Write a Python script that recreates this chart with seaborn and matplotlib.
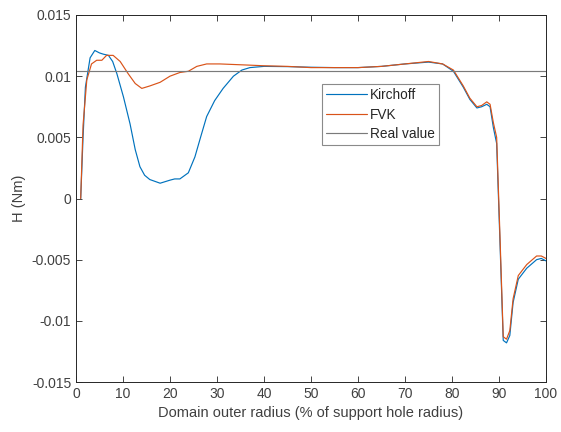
import numpy as np
import pandas as pd
import matplotlib
matplotlib.use("Agg")
import matplotlib.pyplot as plt
import seaborn as sns

# Kirchoff series
kir_x = [1, 1.5, 2, 3, 4, 5, 5.8, 6.9, 7.8, 8.7, 10.1, 11.5, 12.6, 13.6, 14.6, 15.7, 17.9, 20, 21,
         22.1, 23.9, 25.3, 26.5, 27.8, 29.5, 31.3, 33.5, 35.3, 37, 40, 45, 50, 55, 60, 65, 70, 75,
         78, 80.3, 82.4, 83.8, 85.3, 86.3, 87.4, 88.1, 88.8, 89.5, 90.2, 90.9, 91.6, 92.3, 93,
         94.1, 95.9, 98, 99, 100]
kir_y = [0, 0.005, 0.0091, 0.0115, 0.0121, 0.0119, 0.0118, 0.0117, 0.0112, 0.0102, 0.0083, 0.0061,
         0.0040, 0.0026, 0.0019, 0.00155, 0.00125, 0.0015, 0.0016, 0.0016, 0.0021, 0.0034, 0.0050,
         0.0067, 0.0080, 0.0090, 0.0100, 0.0105, 0.0107, 0.0108, 0.01078, 0.01073, 0.0107, 0.0107,
         0.0108, 0.0110, 0.01115, 0.0110, 0.0104, 0.0091, 0.0081, 0.0074, 0.0075, 0.0077, 0.0075,
         0.0058, 0.0045, -0.0035, -0.0116, -0.0118, -0.0112, -0.0085, -0.0066, -0.0057, -0.0050,
         -0.0049, -0.0051]

# FVK series
fvk_x = [1, 1.5, 2.3, 3.3, 4.4, 5.5, 6.5, 7.9, 9.4, 11.1, 12.6, 14, 15.7, 17.9, 20, 22.1, 23.9,
         25.7, 27.8, 30.6, 37, 40, 45, 50, 55, 60, 65, 70, 75, 78, 80.3, 82.4, 83.8, 85.3, 86.3,
         87.4, 88.1, 88.8, 89.5, 90.2, 90.9, 91.6, 92.3, 93, 94.1, 95.9, 98, 99, 100]
fvk_y = [0, 0.006, 0.0097, 0.0110, 0.0113, 0.0113, 0.0117, 0.0117, 0.0112, 0.0102, 0.0094, 0.0090,
         0.0092, 0.0095, 0.0100, 0.0103, 0.0104, 0.0108, 0.0110, 0.0110, 0.0109, 0.01085, 0.0108,
         0.0107, 0.0107, 0.0107, 0.0108, 0.0110, 0.0112, 0.0110, 0.0105, 0.0092, 0.0082, 0.0075,
         0.0076, 0.0079, 0.0077, 0.0062, 0.0050, -0.0030, -0.0113, -0.0115, -0.0108, -0.0082,
         -0.0063, -0.0054, -0.0047, -0.0047, -0.0049]

# Real value
real_x = [0, 100]
real_y = [0.01042, 0.01042]

x_ticks = [0, 10, 20, 30, 40, 50, 60, 70, 80, 90, 100]
y_ticks = [-0.015, -0.01, -0.005, 0, 0.005, 0.01, 0.015]
y_tick_labels = ["-0.015", "-0.01", "-0.005", "0", "0.005", "0.01", "0.015"]

df = pd.concat([
    pd.DataFrame({"x": kir_x, "y": kir_y, "series": "Kirchoff"}),
    pd.DataFrame({"x": fvk_x, "y": fvk_y, "series": "FVK"}),
    pd.DataFrame({"x": real_x, "y": real_y, "series": "Real value"}),
], ignore_index=True)

sns.set_style("ticks")
plt.rcParams["font.family"] = ["Liberation Sans", "DejaVu Sans"]
plt.rcParams["font.size"] = 10

fig = plt.figure(figsize=(5.61, 4.32), dpi=100)
ax = fig.add_axes([76 / 561, 1 - 382 / 432, 470 / 561, 367 / 432])

palette = {"Kirchoff": "#0072BD", "FVK": "#D95319", "Real value": "#7a7a7a"}
sns.lineplot(data=df, x="x", y="y", hue="series", palette=palette, ax=ax,
             linewidth=0.85, sort=False, estimator=None)

txt = "#404040"
ax.set_xlim(0, 100)
ax.set_ylim(-0.015, 0.015)
ax.set_xticks(x_ticks)
ax.set_xticklabels([str(t) for t in x_ticks])
ax.set_yticks(y_ticks)
ax.set_yticklabels(y_tick_labels)
ax.set_xlabel("Domain outer radius (% of support hole radius)", fontsize=10.5, color=txt)
ax.set_ylabel("H (Nm)", fontsize=10.5, color=txt)
ax.tick_params(direction="in", top=True, right=True, length=4, width=0.6,
               colors="#262626", labelsize=10, labelcolor=txt)
for s in ax.spines.values():
    s.set_visible(True)
    s.set_linewidth(0.7)
    s.set_color("#262626")

leg = ax.legend(loc="upper left", bbox_to_anchor=(0.523, 0.812), frameon=True, fancybox=False,
                edgecolor="#8a8a8a", framealpha=1, handlelength=3.0, labelspacing=0.4,
                borderpad=0.3, handletextpad=0.25, fontsize=9.8, borderaxespad=0)
leg.get_frame().set_linewidth(0.8)
for t in leg.get_texts():
    t.set_color("#262626")

fig.savefig("out.png", dpi=100)
